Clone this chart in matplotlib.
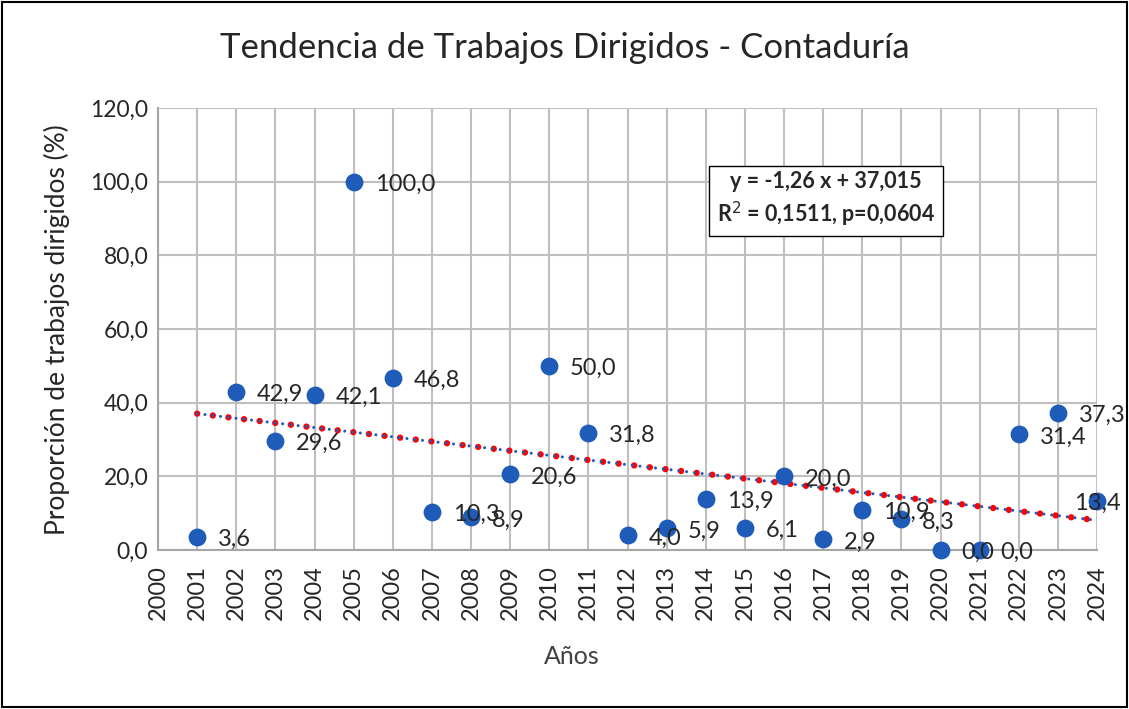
import numpy as np
import matplotlib
matplotlib.use("Agg")
import matplotlib.pyplot as plt
from matplotlib.patches import Rectangle

plt.rcParams['font.family'] = ['Lato', 'DejaVu Sans']

years = list(range(2001, 2025))
values = [3.6, 42.9, 29.6, 42.1, 100.0, 46.8, 10.3, 8.9, 20.6, 50.0, 31.8, 4.0,
          5.9, 13.9, 6.1, 20.0, 2.9, 10.9, 8.3, 0.0, 0.0, 31.4, 37.3, 13.4]
eq_text = "y = -1,26 x + 37,015\nR$^2$ = 0,1511, p=0,0604"

fig = plt.figure(figsize=(11.29, 7.09), dpi=100)
ax = fig.add_axes([0.140, 0.2243, 0.8317, 0.6234])

# frame around whole figure
fig.patches.append(Rectangle((0.002, 0.003), 0.996, 0.994, transform=fig.transFigure,
                             fill=False, edgecolor='black', linewidth=1.5))

ax.scatter(years, values, s=140, color='#1F5BB8', zorder=5, clip_on=False)

# trend line
x = np.array(years, dtype=float)
slope, intercept = np.polyfit(x, values, 1)
tx = np.linspace(2001, 2024, 50)
ty = slope * tx + intercept
ax.plot(tx, ty, color='red', linewidth=4.6, linestyle=(0, (0.01, 2.45)),
        dash_capstyle='round', zorder=4)
ax.plot(tx, ty, color='#1F5BB8', linewidth=2.2, linestyle=(0, (0.01, 2.55)),
        dash_capstyle='round', zorder=4.5)

for xv, yv in zip(years, values):
    lab = f"{yv:.1f}".replace('.', ',')
    if xv == years[-1]:
        ax.annotate(lab, (xv, yv), xytext=(17, -2), textcoords='offset points',
                    ha='right', va='center', fontsize=17, color='#262626', zorder=6)
    else:
        ax.annotate(lab, (xv, yv), xytext=(15, -2), textcoords='offset points',
                    ha='left', va='center', fontsize=17, color='#262626', zorder=6)

ax.set_xlim(2000, 2024)
ax.set_ylim(0, 120)
ax.set_xticks(range(2000, 2025))
ax.set_xticklabels([str(y) for y in range(2000, 2025)], rotation=90, fontsize=17,
                   color='#262626')
ax.set_yticks(range(0, 121, 20))
ax.set_yticklabels([f"{v},0" for v in range(0, 121, 20)], fontsize=16.5, color='#262626')
ax.tick_params(length=0)
ax.tick_params(axis='y', pad=7)
ax.tick_params(axis='x', pad=11)
ax.grid(True, color='#BFBFBF', linewidth=1.5)
ax.set_axisbelow(True)
for side in ['top', 'right']:
    ax.spines[side].set_visible(False)
for side in ['left', 'bottom']:
    ax.spines[side].set_color('#A6A6A6')
    ax.spines[side].set_linewidth(1.5)

ax.set_xlabel("Años", fontsize=18, color='#404040')
ax.xaxis.set_label_coords(0.441, -0.215)
ax.set_ylabel("Proporción de trabajos dirigidos (%)", fontsize=19, color='#262626')
ax.yaxis.set_label_coords(-0.0937, 0.498)
fig.text(0.5, 0.932, "Tendencia de Trabajos Dirigidos - Contaduría", ha='center',
         va='center', fontsize=25, color='#262626')

ax.text(0.7316, 0.718, eq_text, transform=fig.transFigure, ha='center', va='center',
        fontsize=15.5, fontweight='bold', color='#262626', linespacing=1.35,
        bbox=dict(boxstyle='square,pad=0.35', facecolor='white', edgecolor='black', linewidth=1))

fig.savefig("out.png", dpi=100)
